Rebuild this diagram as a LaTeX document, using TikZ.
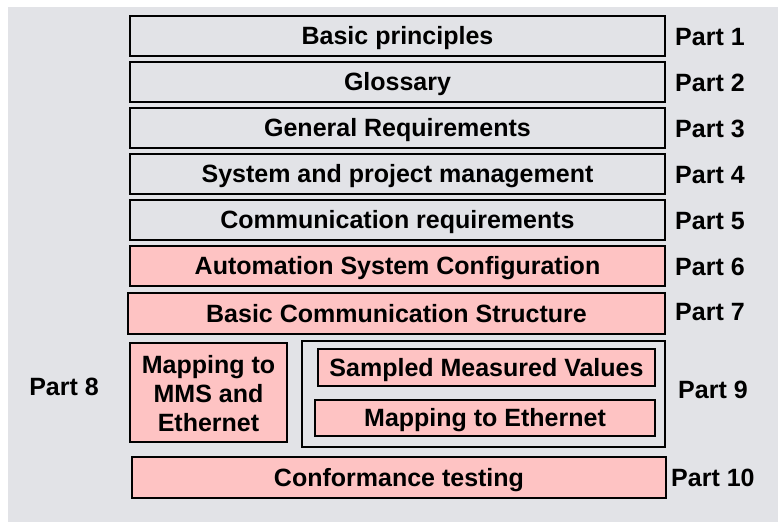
\documentclass[tikz,border=0pt]{standalone}
\usepackage{fontspec}
\setmainfont{Liberation Sans}
\definecolor{bg}{HTML}{E2E3E7}
\definecolor{pinkfill}{HTML}{FEC3C3}
\begin{document}
\begin{tikzpicture}[x=1pt,y=-1pt,
  every node/.style={font=\fontsize{25}{29}\selectfont\bfseries, inner sep=0pt},
  txt/.style={text height=17.9pt, text depth=0pt},
  gbox/.style={txt, draw=black, line width=2pt, fill=bg},
  pbox/.style={txt, draw=black, line width=2pt, fill=pinkfill},
  partlbl/.style={txt, anchor=west}]
\useasboundingbox (0,0) rectangle (778,522);
\fill[white] (0,0) rectangle (778,522);
\fill[bg] (8,7) rectangle (778,522);
\node[gbox, minimum width=535pt, minimum height=40pt] (p1) at (397.5,36) {Basic principles};
\node[gbox, minimum width=535pt, minimum height=40pt] (p2) at (397.5,82) {Glossary};
\node[gbox, minimum width=535pt, minimum height=40pt] (p3) at (397.5,128) {General Requirements};
\node[gbox, minimum width=535pt, minimum height=40pt] (p4) at (397.5,174) {System and project management};
\node[gbox, minimum width=535pt, minimum height=40pt] (p5) at (397.5,220) {Communication requirements};
\node[pbox, minimum width=535pt, minimum height=40pt] (p6) at (397.5,266) {Automation System Configuration};
\node[pbox, minimum width=537pt, minimum height=41pt] (p7) at (396.5,313.5) {Basic Communication Structure};
\node[pbox, minimum width=157pt, minimum height=99pt] (p8) at (208.5,392.5) {};
\node[txt] (p8a) at (208.5,365) {Mapping to};
\node[txt] (p8b) at (208.5,394) {MMS and};
\node[txt] (p8c) at (208.5,423) {Ethernet};
\node[gbox, minimum width=363pt, minimum height=106pt] (p9) at (483.5,394) {};
\node[pbox, minimum width=337pt, minimum height=37pt] (smv) at (486.5,367.5) {Sampled Measured Values};
\node[pbox, minimum width=340pt, minimum height=36pt] (eth) at (485,418) {Mapping to Ethernet};
\node[pbox, minimum width=534pt, minimum height=41pt] (p10) at (399,477.5) {Conformance testing};
\node[partlbl] (l1) at (675,37) {Part 1};
\node[partlbl] (l2) at (675,83) {Part 2};
\node[partlbl] (l3) at (675,129) {Part 3};
\node[partlbl] (l4) at (675,175) {Part 4};
\node[partlbl] (l5) at (675,221) {Part 5};
\node[partlbl] (l6) at (675,267) {Part 6};
\node[partlbl] (l7) at (675,312) {Part 7};
\node[txt] (l8) at (64,387) {Part 8};
\node[partlbl] (l9) at (678,390) {Part 9};
\node[partlbl] (l10) at (671,478) {Part 10};
\end{tikzpicture}
\end{document}
